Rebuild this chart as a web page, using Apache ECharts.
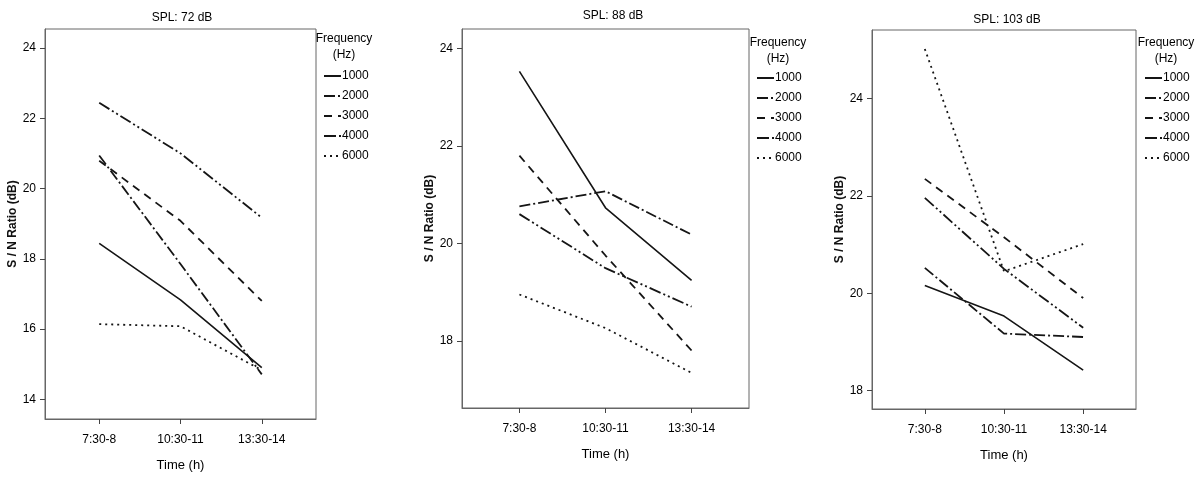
<!DOCTYPE html>
<html>
<head>
<meta charset="utf-8">
<script src="https://cdn.jsdelivr.net/npm/echarts@6/dist/echarts.min.js"></script>
<style>
html,body{margin:0;padding:0;background:#fff;}
#chart{width:1195px;height:477px;}
</style>
</head>
<body>
<div id="chart"></div>
<script>
// time slots on the x axis
var times = ['7:30-8', '10:30-11', '13:30-14'];
var freqs = ['1000', '2000', '3000', '4000', '6000'];
var panelTitles = ['SPL: 72 dB', 'SPL: 88 dB', 'SPL: 103 dB'];

// S/N ratio (dB) per frequency, SPL 72 dB
var spl72_1000 = [18.44, 16.83, 14.90];
var spl72_2000 = [20.94, 17.85, 14.71];
var spl72_3000 = [20.79, 19.08, 16.80];
var spl72_4000 = [22.44, 21.00, 19.17];
var spl72_6000 = [16.14, 16.08, 14.83];

// SPL 88 dB
var spl88_1000 = [23.53, 20.73, 19.24];
var spl88_2000 = [20.76, 21.07, 20.18];
var spl88_3000 = [21.80, 19.75, 17.80];
var spl88_4000 = [20.60, 19.49, 18.70];
var spl88_6000 = [18.95, 18.26, 17.34];

// SPL 103 dB
var spl103_1000 = [20.16, 19.53, 18.42];
var spl103_2000 = [20.52, 19.17, 19.10];
var spl103_3000 = [22.35, 21.15, 19.90];
var spl103_4000 = [21.96, 20.50, 19.29];
var spl103_6000 = [25.02, 20.45, 21.01];

var yTicks72 = [14, 16, 18, 20, 22, 24];
var yTicks88 = [18, 20, 22, 24];
var yTicks103 = [18, 20, 22, 24];

var panels = [
	{data: [spl72_1000, spl72_2000, spl72_3000, spl72_4000, spl72_6000], ticks: yTicks72, ymin: 13.44, ymax: 24.54},
	{data: [spl88_1000, spl88_2000, spl88_3000, spl88_4000, spl88_6000], ticks: yTicks88, ymin: 16.62, ymax: 24.40},
	{data: [spl103_1000, spl103_2000, spl103_3000, spl103_4000, spl103_6000], ticks: yTicks103, ymin: 17.62, ymax: 25.41}
];

var grids = [
	{left: 45, top: 29, width: 271, height: 393},
	{left: 462, top: 29, width: 287, height: 379},
	{left: 872, top: 30, width: 264, height: 379}
];
var legendPos = [{left: 323, top: 70}, {left: 756, top: 72}, {left: 1144, top: 72}];
var legendTitlePos = [{x: 344, y: 31}, {x: 778, y: 35}, {x: 1166, y: 35}];
var titleX = [182, 613, 1007];
var titleY = [12, 10, 14];
var nameGapY = [25, 23, 21];

var dashes = ['solid', [11, 3, 2, 3], [8, 6], [12, 3, 2, 3, 2, 3], [2, 4]];
var FONT = '"Liberation Sans", Arial, sans-serif';
var INK = '#151515';

var myChart = echarts.init(document.getElementById('chart'), null, {renderer: 'canvas'});

var xAxes = [], yAxes = [], series = [], legends = [], graphics = [];
for (var p = 0; p < 3; p++) {
	xAxes.push({
		type: 'value', gridIndex: p, min: -0.667, max: 2.667,
		name: 'Time (h)', nameLocation: 'middle', nameGap: 40,
		nameTextStyle: {fontFamily: FONT, fontSize: 13, color: '#000'},
		splitLine: {show: false},
		axisLine: {onZero: false, lineStyle: {color: '#666'}},
		axisTick: {customValues: [0, 1, 2], length: 5, lineStyle: {color: '#444'}},
		axisLabel: {customValues: [0, 1, 2], margin: 15, fontFamily: FONT, fontSize: 12, color: '#000',
			formatter: function(v){ return times[Math.round(v)]; }}
	});
	yAxes.push({
		type: 'value', gridIndex: p, min: panels[p].ymin, max: panels[p].ymax,
		name: 'S / N Ratio (dB)', nameLocation: 'middle', nameGap: nameGapY[p],
		nameTextStyle: {fontFamily: FONT, fontSize: 12, fontWeight: 'bold', color: '#111'},
		splitLine: {show: false},
		axisLine: {onZero: false, lineStyle: {color: '#666'}},
		axisTick: {customValues: panels[p].ticks, length: 5, lineStyle: {color: '#444'}},
		axisLabel: {customValues: panels[p].ticks, margin: 9, fontFamily: FONT, fontSize: 12, color: '#000'}
	});
	for (var f = 0; f < freqs.length; f++) {
		var pts = [];
		for (var t = 0; t < times.length; t++) {
			pts.push([t, panels[p].data[f][t]]);
		}
		series.push({
			name: freqs[f], type: 'line', xAxisIndex: p, yAxisIndex: p,
			data: pts, symbol: 'none', silent: true, animation: false,
			lineStyle: {color: INK, width: f == 0 ? 1.6 : 1.8, type: dashes[f]},
			itemStyle: {color: INK}
		});
	}
	legends.push({
		orient: 'vertical', left: legendPos[p].left, top: legendPos[p].top, padding: 0,
		data: freqs, itemWidth: 17, itemHeight: 12, itemGap: 8,
		selectedMode: false,
		itemStyle: {opacity: 0},
		textStyle: {fontFamily: FONT, fontSize: 12, color: '#000', padding: [0, 0, 0, -4]}
	});
	graphics.push({
		type: 'text', x: titleX[p], y: titleY[p],
		style: {text: panelTitles[p], font: '12px ' + FONT, fill: '#000', textAlign: 'center'}
	});
	graphics.push({
		type: 'text', x: legendTitlePos[p].x, y: legendTitlePos[p].y,
		style: {text: 'Frequency\n(Hz)', font: '12px ' + FONT, fill: '#000', textAlign: 'center', lineHeight: 16}
	});
}

var option = {
	backgroundColor: '#fff',
	animation: false,
	grid: grids.map(function(g){
		return {left: g.left, top: g.top, width: g.width, height: g.height, show: true,
			borderColor: '#666', borderWidth: 1, backgroundColor: '#fff', containLabel: false};
	}),
	xAxis: xAxes,
	yAxis: yAxes,
	legend: legends,
	graphic: graphics,
	series: series
};
myChart.setOption(option);
</script>
</body>
</html>
